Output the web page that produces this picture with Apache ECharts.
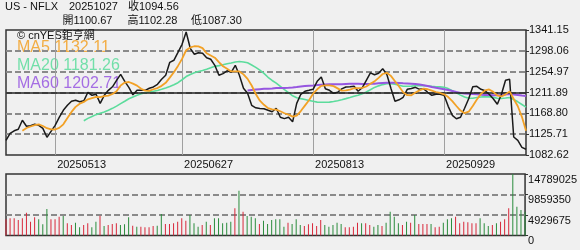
<!DOCTYPE html>
<html><head><meta charset="utf-8">
<script src="https://cdn.jsdelivr.net/npm/echarts@6/dist/echarts.min.js"></script>
<style>html,body{margin:0;padding:0;background:#f0f0f0}#c{width:580px;height:250px}</style>
</head><body><div id="c"></div>
<script>
const dates = [
'20250425','20250428','20250429','20250430',
'20250501','20250502','20250505','20250506','20250507','20250508','20250509','20250512','20250513','20250514','20250515','20250516','20250519','20250520','20250521','20250522','20250523','20250527','20250528','20250529','20250530',
'20250602','20250603','20250604','20250605','20250606','20250609','20250610','20250611','20250612','20250613','20250616','20250617','20250618','20250620','20250623','20250624','20250625','20250626','20250627','20250630',
'20250701','20250702','20250703','20250707','20250708','20250709','20250710','20250711','20250714','20250715','20250716','20250717','20250718','20250721','20250722','20250723','20250724','20250725','20250728','20250729','20250730','20250731',
'20250801','20250804','20250805','20250806','20250807','20250808','20250811','20250812','20250813','20250814','20250815','20250818','20250819','20250820','20250821','20250822','20250825','20250826','20250827','20250828','20250829',
'20250902','20250903','20250904','20250905','20250908','20250909','20250910','20250911','20250912','20250915','20250916','20250917','20250918','20250919','20250922','20250923','20250924','20250925','20250926','20250929','20250930',
'20251001','20251002','20251003','20251006','20251007','20251008','20251009','20251010','20251013','20251014','20251015','20251016','20251017','20251020','20251021','20251022','20251023','20251024','20251027'];

const closes = [
1113.0,1127.5,1132.7,1135.8,1154.4,1142.0,1143.0,1146.1,1144.0,1137.8,
1119.2,1131.6,1144.0,1160.6,1175.1,1185.4,1193.7,1195.8,1192.6,1194.7,
1212.3,1206.1,1208.2,1189.5,1206.1,1216.4,1223.7,1237.1,1249.5,1235.0,
1222.6,1207.1,1216.4,1216.4,1216.4,1220.6,1223.3,1228.8,1239.2,1247.5,
1274.3,1278.5,1295.0,1311.6,1337.0,1303.3,1290.9,1294.0,1293.0,1283.7,
1280.6,1268.1,1247.5,1251.0,1256.8,1253.7,1268.1,1247.5,1220.6,1210.2,
1185.4,1180.2,1178.6,1178.2,1175.1,1172.0,1179.2,1160.6,1157.9,1160.6,
1151.3,1189.5,1208.2,1214.4,1216.4,1218.5,1235.0,1243.9,1219.5,1216.4,
1210.2,1212.3,1219.5,1223.3,1223.7,1224.7,1214.4,1221.6,1237.1,1252.6,
1248.5,1251.6,1260.9,1249.5,1220.6,1193.7,1196.8,1202.0,1218.5,1220.0,
1222.6,1218.5,1219.5,1212.3,1206.1,1208.2,1208.2,1206.1,1183.3,1164.7,
1157.5,1160.6,1179.2,1198.9,1223.7,1224.7,1218.5,1215.4,1208.2,1198.9,
1187.5,1208.2,1237.1,1239.2,1119.8,1113.0,1098.5,1094.56];

const volumes = [
3890000,4130000,4130000,3730000,4130000,5490000,3330000,4370000,3890000,2690000,
6370000,3890000,3890000,4530000,4690000,2930000,2530000,3090000,1960000,2530000,
2930000,1960000,3330000,4770000,2280000,2530000,2770000,2930000,2530000,2690000,
4370000,2360000,2120000,2120000,1960000,1960000,2280000,2360000,5170000,2770000,
2770000,2930000,3330000,4130000,3570000,4930000,2930000,2120000,2530000,3330000,
2530000,4130000,4130000,2930000,3090000,3330000,6530000,10780000,5730000,4690000,
4530000,4130000,2770000,3570000,2770000,3730000,3890000,3890000,2120000,3090000,
2770000,3890000,2530000,2280000,2690000,2930000,2280000,3730000,2530000,2120000,
2530000,3090000,2770000,1960000,1960000,2120000,3090000,2930000,2930000,2530000,
2120000,2530000,2280000,3090000,5730000,4530000,2930000,2530000,3330000,3090000,
4930000,2770000,2770000,2770000,2770000,1960000,2120000,3090000,3890000,4130000,
4530000,2930000,3330000,3170000,2930000,2930000,4130000,2930000,2280000,2530000,
2930000,3330000,3890000,6530000,14789025,6930000,6130000,5730000];

// r = red (up), g = green (down)
const volColor = (
'rrrrrrrrgg'+'grrrgrrggr'+'rggrgrrrgg'+'grgrrrrggr'+'rrrrrgggrg'+
'rgggggrgrg'+'ggrggggggr'+'gggrrrrrgg'+'gggrrrrgrr'+'ggrggggrgr'+
'grrrgrrggg'+'rrrrrrgggr'+'grrrgggg').split('');

const priceTicks = [1082.62,1125.71,1168.80,1211.89,1254.97,1298.06,1341.15];
const volTicks = [0,4929675,9859350,14789025];
const xLabelDates = ['20250513','20250627','20250813','20250929'];
const maLabels = ['MA5 1132.11','MA20 1181.26','MA60 1202.71'];
const headerLine1 = ['US - NFLX','20251027','收1094.56'];
const headerLine2 = ['開1100.67','高1102.28','低1087.30'];
const credit = '© cnYES鉅亨網';

function ma(n){
  return closes.map((v,i)=>{
    if(i<n-1) return '-';
    let s=0; for(let k=i-n+1;k<=i;k++) s+=closes[k];
    return +(s/n).toFixed(2);
  });
}

const FONT = "'Liberation Sans', Arial, 'Noto Sans CJK TC', sans-serif";
const RED = '#d8283a', GREEN = '#2a8c3c';
const maColors = ['#f2a126','#5cdc9c','#9656e0'];

const chart = echarts.init(document.getElementById('c'), null, {renderer:'canvas'});
const showLbl = (i, v) => xLabelDates.indexOf(v) >= 0;

const graphics = [];
const h1x = [5, 69, 128], h2x = [62.5, 127.5, 191];
headerLine1.forEach((t,i)=>graphics.push({type:'text', left:h1x[i], top:1, style:{text:t, font:'11px '+FONT, fill:'#111'}}));
headerLine2.forEach((t,i)=>graphics.push({type:'text', left:h2x[i], top:15, style:{text:t, font:'11px '+FONT, fill:'#111'}}));
graphics.push({type:'text', left:17, top:30, style:{text:credit, font:'11px '+FONT, fill:'#111'}});
const maY = [40, 58, 76];
maLabels.forEach((t,i)=>graphics.push({type:'text', left:17, top:maY[i], style:{text:t, font:'16px '+FONT, fill:maColors[i], opacity:0.85}}));

const dashed = {show:true, showMinLine:false, showMaxLine:false, lineStyle:{color:'#8a8a8a', width:2, type:[6,3]}};

chart.setOption({
  backgroundColor:'#f0f0f0',
  animation:false,
  textStyle:{fontFamily:FONT},
  graphic: graphics,
  grid:[
    {left:6, right:54, top:30, height:125, show:true, borderColor:'#333', borderWidth:1.5, backgroundColor:'transparent'},
    {left:6, right:54, top:174, height:61.5, show:true, borderColor:'#333', borderWidth:1.5, backgroundColor:'transparent'}
  ],
  xAxis:[
    {type:'category', gridIndex:0, data:dates, boundaryGap:false,
     axisLine:{show:false}, axisTick:{show:false},
     axisLabel:{interval:showLbl, align:'left', margin:4, padding:[0,0,0,2], fontSize:11, color:'#111', fontFamily:FONT},
     splitLine:{show:true, interval:showLbl, lineStyle:{color:'#a0a0a0', width:1}}},
    {type:'category', gridIndex:1, data:dates, boundaryGap:false,
     axisLine:{show:false}, axisTick:{show:false}, axisLabel:{show:false}, splitLine:{show:false}}
  ],
  yAxis:[
    {type:'value', gridIndex:0, min:priceTicks[0], max:priceTicks[6], show:false},
    {type:'value', gridIndex:0, min:0, max:priceTicks.length-1, interval:1, position:'right',
     axisLine:{show:false}, axisTick:{show:true, length:3, lineStyle:{color:'#333'}},
     axisLabel:{formatter:v=>priceTicks[v].toFixed(2), margin:3, fontSize:11, color:'#111', fontFamily:FONT},
     splitLine:dashed},
    {type:'value', gridIndex:1, min:volTicks[0], max:volTicks[3], interval:volTicks[1], position:'right',
     axisLine:{show:false}, axisTick:{show:true, length:3, lineStyle:{color:'#333'}},
     axisLabel:{formatter:v=>String(v), margin:3, fontSize:11, color:'#111', verticalAlign:'top', fontFamily:FONT},
     splitLine:dashed}
  ],
  series:[
    {type:'line', name:'close', xAxisIndex:0, yAxisIndex:0, data:closes, symbol:'none',
     lineStyle:{color:'#1a1a1a', width:1.5}, z:5,
     markLine:{silent:true, symbol:'none', label:{show:false}, lineStyle:{color:'#222', type:'solid', width:1.5},
       data:[{yAxis:priceTicks[3]}]}},
    {type:'line', name:'MA5', xAxisIndex:0, yAxisIndex:0, data:ma(5), symbol:'none', lineStyle:{color:maColors[0], width:1.8}, z:6},
    {type:'line', name:'MA20', xAxisIndex:0, yAxisIndex:0, data:ma(20), symbol:'none', lineStyle:{color:maColors[1], width:1.6}, z:4},
    {type:'line', name:'MA60', xAxisIndex:0, yAxisIndex:0, data:ma(60), symbol:'none', lineStyle:{color:maColors[2], width:2}, z:4},
    {type:'bar', xAxisIndex:1, yAxisIndex:2, barWidth:1,
     data:volumes.map((v,i)=>({value:v, itemStyle:{color: volColor[i]==='r'?RED:GREEN}}))}
  ]
});
</script></body></html>
